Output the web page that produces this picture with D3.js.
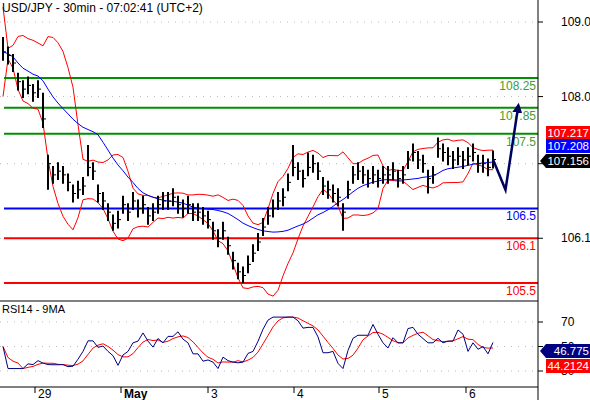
<!DOCTYPE html>
<html><head><meta charset="utf-8">
<script src="https://cdn.jsdelivr.net/npm/d3@7"></script>
<style>body{margin:0;background:#fff}svg{font-family:"Liberation Sans",Arial,sans-serif}</style>
</head><body><svg width="590" height="400"></svg>
<script>
// closes, one bar every few hours
const closes = [108.6,108.55,108.45,108.2,108.1,108.15,108.05,108.1,107.7,107.1,
  106.95,107.0,106.95,106.85,106.7,106.75,106.8,107.05,107.0,106.7,
  106.6,106.45,106.3,106.35,106.55,106.45,106.6,106.5,106.55,106.4,
  106.45,106.55,106.6,106.6,106.65,106.55,106.5,106.55,106.45,106.45,
  106.4,106.35,106.2,106.1,106.2,106.0,105.8,105.65,105.6,105.75,
  105.9,106.05,106.25,106.4,106.5,106.6,106.65,106.85,107.05,107.0,
  106.9,107.05,107.1,107.0,106.8,106.75,106.7,106.65,106.45,106.75,
  106.95,107.0,106.95,106.9,106.95,106.9,106.95,106.95,107.0,106.9,
  106.95,107.15,107.25,107.15,107.1,106.9,106.95,107.3,107.25,107.2,
  107.15,107.2,107.15,107.2,107.25,107.1,107.1,107.05,107.156];
const barRange = 0.12;
// bars whose high / low stick out further
const highOverrides = {0:108.8, 8:108.05, 17:107.35, 58:107.35, 87:107.45, 61:107.25};
const lowOverrides = {9:106.75, 22:106.2, 47:105.55, 48:105.5, 68:106.2, 85:106.7};
const levels = [
  {v:108.25, c:"#009000", t:"108.25"},
  {v:107.85, c:"#009000", t:"107.85"},
  {v:107.5, c:"#009000", t:"107.5"},
  {v:106.5, c:"#0000ff", t:"106.5"},
  {v:106.1, c:"#ff0000", t:"106.1"},
  {v:105.5, c:"#ff0000", t:"105.5"}];
const priceTicks = [109.0, 108.0, 107.1, 106.1];
const rsiTicks = [70, 50, 30];
const dayTicks = [{i:6.4,t:"29"},{i:23.6,t:"May"},{i:41,t:"3"},{i:58.2,t:"4"},{i:75.2,t:"5"},{i:92.6,t:"6"}];
const projection = [[98,107.156],[100.5,106.75],[103,107.85]];
const lastLabels = [{v:107.217,c:"#ff0000",t:"107.217"},{v:107.208,c:"#0000ff",t:"107.208"},{v:107.156,c:"#000000",t:"107.156"}];
const rsiLabels = [{v:46.775,c:"#000080",t:"46.775"},{v:44.2124,c:"#ff0000",t:"44.2124"}];

const svg = d3.select("svg");
const x = d3.scaleLinear().domain([0,98]).range([3,493]);
const y = d3.scaleLinear().domain([109,105.5]).range([22,283]);
const yr = d3.scaleLinear().domain([70,30]).range([322,371]);
const R = 538;

// indicators
const sma = (arr,n) => arr.map((d,i)=>d3.mean(arr.slice(Math.max(0,i-n+1),i+1)));
const mid = sma(closes,8);
const sd = closes.map((d,i)=>d3.deviation(closes.slice(Math.max(0,i-7),i+1))||0.3);
const upper = mid.map((m,i)=>m+2*sd[i]), lower = mid.map((m,i)=>m-2*sd[i]);
const ma = sma(closes,20);
const rsi = closes.map((c,i)=>{
  if(i<1) return 50;
  let g=0,l=0; for(let k=Math.max(1,i-5);k<=i;k++){const d=closes[k]-closes[k-1]; if(d>0)g+=d; else l-=d;}
  return g+l===0?50:32+42*g/(g+l);
});
const rsiMa = sma(rsi,4);

// grid
svg.selectAll(".pg").data(priceTicks).join("line").attr("x1",0).attr("x2",R)
  .attr("y1",d=>y(d)).attr("y2",d=>y(d)).attr("stroke","#bbb").attr("stroke-dasharray","1,6");
svg.selectAll(".rg").data(rsiTicks).join("line").attr("x1",0).attr("x2",R)
  .attr("y1",d=>yr(d)).attr("y2",d=>yr(d)).attr("stroke","#bbb").attr("stroke-dasharray","1,6");

// levels
svg.selectAll(".lv").data(levels).join("line").attr("x1",4).attr("x2",R)
  .attr("y1",d=>y(d.v)).attr("y2",d=>y(d.v)).attr("stroke",d=>d.c).attr("stroke-width",2);
svg.selectAll(".lvt").data(levels).join("text").attr("x",R-2).attr("y",d=>y(d.v)+12)
  .attr("text-anchor","end").attr("font-size",12).attr("fill",d=>d.c==="#009000"?"#4a9a2a":d.c).text(d=>d.t);

const line = d3.line().x((d,i)=>x(i)).y(d=>y(d));
svg.append("path").attr("d",line(upper)).attr("fill","none").attr("stroke","red");
svg.append("path").attr("d",line(lower)).attr("fill","none").attr("stroke","red");
svg.append("path").attr("d",line(ma)).attr("fill","none").attr("stroke","#0000ff");

// bars
svg.selectAll(".bar").data(closes).join("line")
  .attr("x1",(d,i)=>x(i)).attr("x2",(d,i)=>x(i))
  .attr("y1",(d,i)=>y(highOverrides[i] ?? d+barRange)).attr("y2",(d,i)=>y(lowOverrides[i] ?? d-barRange))
  .attr("stroke","#000").attr("stroke-width",2);
svg.selectAll(".tick").data(closes).join("line")
  .attr("x1",(d,i)=>x(i)).attr("x2",(d,i)=>x(i)+3).attr("y1",d=>y(d)).attr("y2",d=>y(d)).attr("stroke","#000");

// projection arrow
svg.append("defs").append("marker").attr("id","ah").attr("viewBox","0 0 10 10").attr("refX",5).attr("refY",5)
  .attr("markerWidth",4).attr("markerHeight",4).attr("orient","auto")
  .append("path").attr("d","M0,0L10,5L0,10Z").attr("fill","#000060");
svg.append("path").attr("d",d3.line().x(d=>x(d[0])).y(d=>y(d[1]))(projection))
  .attr("fill","none").attr("stroke","#000060").attr("stroke-width",2.5).attr("marker-end","url(#ah)");

// title
svg.append("text").attr("x",2).attr("y",12).attr("font-size",12).text("USD/JPY - 30min - 07:02:41 (UTC+2)");

// right axis
svg.append("line").attr("x1",R).attr("x2",R).attr("y1",0).attr("y2",400).attr("stroke","#000");
svg.selectAll(".pt").data(priceTicks).join("line").attr("x1",R).attr("x2",R+5)
  .attr("y1",d=>y(d)).attr("y2",d=>y(d)).attr("stroke","#000");
svg.selectAll(".ptl").data(priceTicks).join("text").attr("x",R+23).attr("y",d=>y(d)+4)
  .attr("font-size",12).text(d=>d.toFixed(1));
svg.selectAll(".rt").data(rsiTicks).join("line").attr("x1",R).attr("x2",R+5)
  .attr("y1",d=>yr(d)).attr("y2",d=>yr(d)).attr("stroke","#000");
svg.selectAll(".rtl").data(rsiTicks).join("text").attr("x",R+23).attr("y",d=>yr(d)+4)
  .attr("font-size",12).text(d=>d);

const tag = (sel, data, offs) => {
  const g = svg.selectAll(sel).data(data).join("g").attr("transform",(d,i)=>`translate(0,${offs[i]})`);
  g.append("path").attr("d",d=>d.c==="#000000"||d.c==="#000080"
      ? `M${R+2},0L${R+8},-7H590V7H${R+8}Z` : `M${R+8},-7H590V7H${R+8}Z`).attr("fill",d=>d.c);
  g.append("text").attr("x",589).attr("y",4).attr("text-anchor","end").attr("font-size",11.5)
    .attr("fill","#fff").text(d=>d.t);
};
tag(".lt", lastLabels, [133,146,161]);
tag(".rl", rsiLabels, [351,366]);

// RSI panel
svg.append("line").attr("x1",0).attr("x2",R).attr("y1",301).attr("y2",301).attr("stroke","#000");
svg.append("line").attr("x1",0).attr("x2",R).attr("y1",387).attr("y2",387).attr("stroke","#000");
svg.append("text").attr("x",2).attr("y",313).attr("font-size",11).text("RSI14 - 9MA");
const rl = d3.line().x((d,i)=>x(i)).y(d=>yr(d));
svg.append("path").attr("d",rl(rsiMa)).attr("fill","none").attr("stroke","red");
svg.append("path").attr("d",rl(rsi)).attr("fill","none").attr("stroke","#000080");

// time axis
svg.selectAll(".dt").data(dayTicks).join("line").attr("x1",d=>x(d.i)).attr("x2",d=>x(d.i))
  .attr("y1",387).attr("y2",393).attr("stroke","#000");
svg.selectAll(".dtl").data(dayTicks).join("text").attr("x",d=>x(d.i)+3).attr("y",398)
  .attr("font-size",12).attr("font-weight",d=>d.t==="May"?"bold":"normal").text(d=>d.t);
</script></body></html>
